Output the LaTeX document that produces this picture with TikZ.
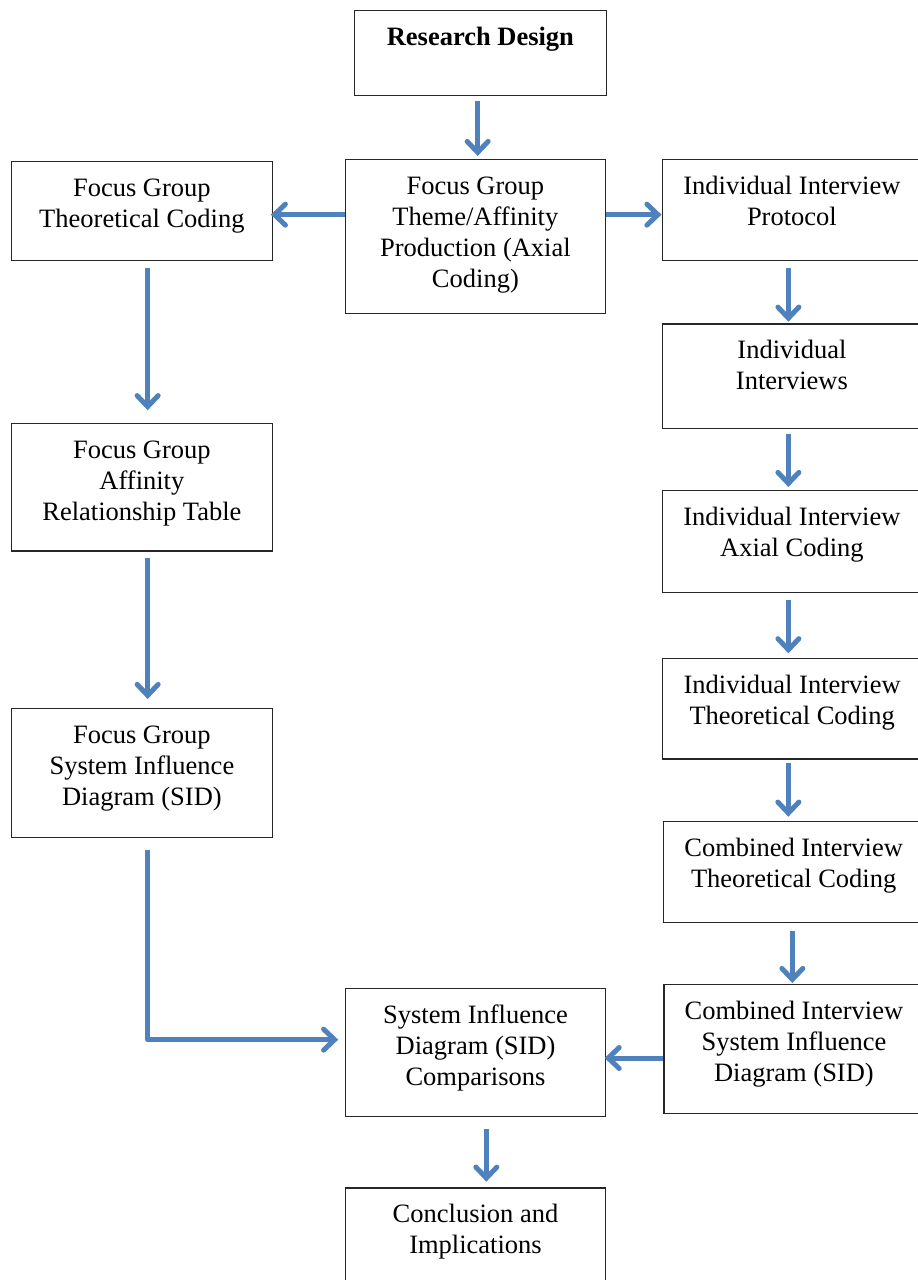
\documentclass[tikz,border=0pt]{standalone}
\usepackage{fontspec}
\setmainfont{Liberation Serif}
\usetikzlibrary{arrows.meta}

\definecolor{flowblue}{RGB}{79,129,189}

% stage box: name, left, top, width, height, text (first baseline 35pt below the top edge)
\newcommand{\stagebox}[6]{%
  \node[stage] (#1) at (#2,#3)
    {\parbox[t][#5pt][t]{#4pt}{\centering\rule{0pt}{35pt}#6}};}

\begin{document}
\begin{tikzpicture}[x=1pt,y=-1pt,
  stage/.style={draw=black!85, line width=1.3pt, inner sep=0pt, anchor=north west,
    font=\fontsize{26.5}{31}\selectfont},
  flow/.style={draw=flowblue, line width=5pt, line join=round,
    -{Straight Barb[length=11pt,width=21pt,line cap=round,line join=miter]}}]

\useasboundingbox (0,0) rectangle (918,1280);
\clip (0,0) rectangle (918,1280);

% centre column
\stagebox{rd}{353.5}{10}{252.5}{85}{\textbf{Research Design}}
\stagebox{fgt}{344.5}{159}{260.5}{154}{Focus Group\\Theme/Affinity\\Production (Axial\\Coding)}
\stagebox{sidc}{344.7}{987.7}{260.3}{128}{System Influence\\Diagram (SID)\\Comparisons}
\stagebox{ci}{344.7}{1187.3}{260.3}{105}{Conclusion and\\Implications}

% focus group column
\stagebox{fgtc}{11}{160.5}{260.5}{99}{Focus Group\\Theoretical Coding}
\stagebox{fgart}{11}{422.7}{260.5}{127.5}{Focus Group\\Affinity\\Relationship Table}
\stagebox{fgsid}{11}{708}{260.5}{128.7}{Focus Group\\System Influence\\Diagram (SID)}

% interview column
\stagebox{iip}{661.5}{159}{259.5}{101}{Individual Interview\\Protocol}
\stagebox{ii}{661.5}{323.3}{259.5}{104.5}{Individual\\Interviews}
\stagebox{iiac}{661.5}{490}{259.5}{101.5}{Individual Interview\\Axial Coding}
\stagebox{iitc}{662}{657.7}{259}{100.6}{Individual Interview\\Theoretical Coding}
\stagebox{citc}{663}{821}{260}{101}{Combined Interview\\Theoretical Coding}
\stagebox{cisid}{663.3}{984}{260}{128.7}{Combined Interview\\System Influence\\Diagram (SID)}

% connectors
\draw[flow, shorten >=3pt] ([xshift=-2.75pt,yshift=-5pt]rd.south) coordinate (s1) -- (s1 |- fgt.north);

\coordinate (fgtL) at ([yshift=22pt]fgt.west);
\coordinate (fgtR) at ([yshift=22pt]fgt.east);
\draw[flow, shorten >=-2pt] (fgtL) -- (fgtL -| fgtc.east);
\draw[flow] (fgtR) -- (fgtR -| iip.west);

\draw[flow, shorten >=12.5pt] ([xshift=5.75pt,yshift=-7pt]fgtc.south) coordinate (s2) -- (s2 |- fgart.north);
\draw[flow, shorten >=9pt] ([xshift=5.75pt,yshift=-6pt]fgart.south) coordinate (s3) -- (s3 |- fgsid.north);
\draw[flow, shorten >=6.5pt] ([xshift=5.75pt,yshift=-11.6pt]fgsid.south) coordinate (s4) |- ([yshift=12.7pt]sidc.west);

\draw[flow, shorten >=1.6pt] ([xshift=-3.5pt,yshift=-7pt]iip.south) coordinate (s5) -- (s5 |- ii.north);
\draw[flow, shorten >=3pt] ([xshift=-3.5pt,yshift=-4.5pt]ii.south) coordinate (s6) -- (s6 |- iiac.north);
\draw[flow, shorten >=4.4pt] ([xshift=-3.5pt,yshift=-7pt]iiac.south) coordinate (s7) -- (s7 |- iitc.north);
\draw[flow, shorten >=4.3pt] ([xshift=-3.8pt,yshift=-3.4pt]iitc.south) coordinate (s8) -- (s8 |- citc.north);
\draw[flow, shorten >=1pt] ([xshift=-1.3pt,yshift=-8pt]citc.south) coordinate (s9) -- (s9 |- cisid.north);

\coordinate (cisidL) at ([yshift=-9pt]cisid.west);
\draw[flow, shorten >=-1.7pt] (cisidL) -- (cisidL -| sidc.east);

\draw[flow, shorten >=5.6pt] ([xshift=10.85pt,yshift=-11.6pt]sidc.south) coordinate (s10) -- (s10 |- ci.north);

\end{tikzpicture}
\end{document}
